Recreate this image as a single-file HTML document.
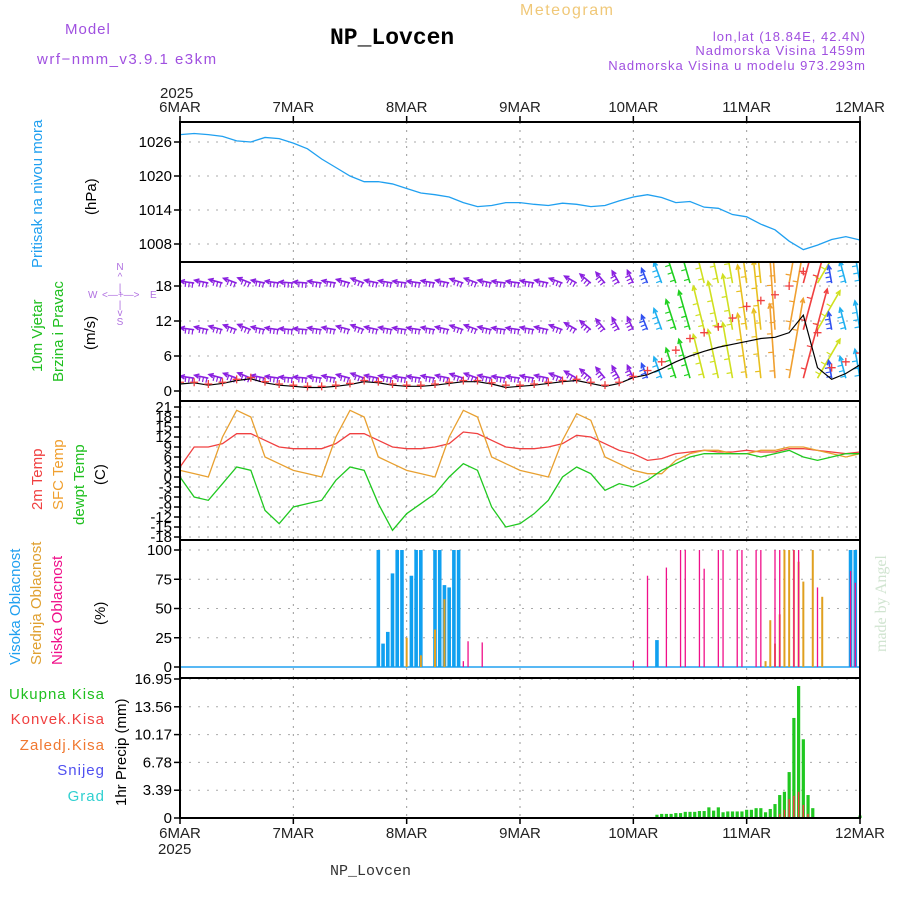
<!DOCTYPE html>
<html><head><meta charset="utf-8"><style>
html,body{margin:0;padding:0;background:#fff}
svg{display:block}
text{font-family:"Liberation Sans",sans-serif}
</style></head><body>
<svg id="chart" width="900" height="900" viewBox="0 0 900 900" xmlns="http://www.w3.org/2000/svg">
<defs>
<clipPath id="cp1"><rect x="180" y="122" width="680" height="140"/></clipPath>
<clipPath id="cp2"><rect x="180" y="262" width="680" height="139"/></clipPath>
<clipPath id="cp3"><rect x="180" y="401" width="680" height="139"/></clipPath>
</defs>
<g>
<text x="65" y="34" font-size="15" fill="#a050e0" letter-spacing="1">Model</text>
<text x="37" y="64" font-size="15" fill="#a050e0" letter-spacing="1.5">wrf−nmm_v3.9.1 e3km</text>
<text x="330" y="44" font-size="23" font-weight="bold" fill="#000" style="font-family:'Liberation Mono',monospace">NP_Lovcen</text>
<text x="520" y="15" font-size="16" fill="#f0c878" letter-spacing="1.5">Meteogram</text>
<text x="866" y="41" font-size="13" fill="#a050e0" text-anchor="end" letter-spacing="1">lon,lat (18.84E, 42.4N)</text>
<text x="866" y="55" font-size="13" fill="#a050e0" text-anchor="end" letter-spacing="1">Nadmorska Visina 1459m</text>
<text x="866" y="70" font-size="13" fill="#a050e0" text-anchor="end" letter-spacing="1">Nadmorska Visina u modelu 973.293m</text>
<text x="330" y="875" font-size="15" fill="#333" style="font-family:'Liberation Mono',monospace">NP_Lovcen</text>
<text transform="translate(886,652) rotate(-90)" font-size="16" fill="#d0e4d0" style="font-family:'Liberation Serif',serif">made by Angel</text>
</g>
<g id="labels">
<text transform="translate(42,268) rotate(-90)" font-size="15" fill="#20a0f0">Pritisak na nivou mora</text>
<text transform="translate(96,215) rotate(-90)" font-size="15" fill="#000">(hPa)</text>
<text transform="translate(42,372) rotate(-90)" font-size="15" fill="#20c020">10m Vjetar</text>
<text transform="translate(63,382) rotate(-90)" font-size="15" fill="#20c020">Brzina i Pravac</text>
<text transform="translate(95,350) rotate(-90)" font-size="15" fill="#000">(m/s)</text>
<g fill="#b070e0" font-size="10">
<text x="120" y="270" text-anchor="middle">N</text><text x="120" y="280" text-anchor="middle">^</text><text x="120" y="291" text-anchor="middle">|</text>
<text x="88" y="298">W</text><text x="102" y="298">&lt;—+—&gt;</text><text x="150" y="298">E</text>
<text x="120" y="308" text-anchor="middle">|</text><text x="120" y="316" text-anchor="middle">v</text><text x="120" y="325" text-anchor="middle">S</text>
</g>
<text transform="translate(42,510) rotate(-90)" font-size="15" fill="#f04040">2m Temp</text>
<text transform="translate(63,510) rotate(-90)" font-size="15" fill="#f0a030">SFC Temp</text>
<text transform="translate(84,525) rotate(-90)" font-size="15" fill="#20c020">dewpt Temp</text>
<text transform="translate(105,485) rotate(-90)" font-size="15" fill="#000">(C)</text>
<text transform="translate(20,665) rotate(-90)" font-size="15" fill="#20a0f0">Visoka Oblacnost</text>
<text transform="translate(41,665) rotate(-90)" font-size="15" fill="#e0a030">Srednja Oblacnost</text>
<text transform="translate(62,665) rotate(-90)" font-size="15" fill="#f0108a">Niska Oblacnost</text>
<text transform="translate(105,625) rotate(-90)" font-size="15" fill="#000">(%)</text>
<text transform="translate(126,806) rotate(-90)" font-size="15" fill="#000">1hr Precip (mm)</text>
<text x="105" y="699" font-size="15" fill="#20c020" text-anchor="end" letter-spacing="1">Ukupna  Kisa</text>
<text x="105" y="724" font-size="15" fill="#f04040" text-anchor="end" letter-spacing="1">Konvek.Kisa</text>
<text x="105" y="750" font-size="15" fill="#f07830" text-anchor="end" letter-spacing="1">Zaledj.Kisa</text>
<text x="105" y="775" font-size="15" fill="#5050f0" text-anchor="end" letter-spacing="1">Snijeg</text>
<text x="105" y="801" font-size="15" fill="#30d0d0" text-anchor="end" letter-spacing="1">Grad</text>
</g>
<g id="plot"></g>
</svg>
<script>
// ---- data (3-hourly unless noted; hour 0 = 6MAR 00h) ----
var dayLabels = ["6MAR","7MAR","8MAR","9MAR","10MAR","11MAR","12MAR"];
var pressure = [1027.3,1027.5,1027.3,1027.0,1026.2,1026.0,1026.8,1026.6,
 1025.8,1024.8,1023.0,1021.5,1020.0,1019.0,1019.0,1018.6,
 1017.8,1017.0,1016.7,1016.3,1015.3,1014.6,1014.8,1015.3,
 1015.3,1015.0,1014.8,1015.2,1015.0,1014.6,1014.8,1015.6,
 1016.3,1016.7,1016.2,1015.3,1015.5,1014.5,1014.3,1013.2,
 1012.8,1011.5,1010.5,1008.5,1007.0,1007.8,1008.8,1009.3,1008.7];
var pressureTicks = [1008,1014,1020,1026];
var windSpeed = [1.5,1.5,1.2,1.5,2.0,2.3,1.6,1.2,
 1.0,0.8,0.8,1.0,1.3,1.8,1.6,1.2,
 1.0,1.0,1.2,1.5,1.8,1.8,1.4,1.0,
 1.0,1.2,1.5,1.8,2.0,1.5,1.0,1.5,
 2.5,3.5,5.0,7.0,9.0,10.0,11.0,12.5,
 14.5,15.5,16.5,18.0,20.5,10.0,4.0,5.0,6.5];
var windGust = [1.2,1.4,1.0,1.3,1.8,2.1,1.4,1.0,
 0.8,0.6,0.6,0.8,1.1,1.6,1.4,1.0,
 0.8,0.8,1.0,1.3,1.6,1.6,1.2,0.6,
 0.8,1.0,1.3,1.6,1.8,1.3,0.8,1.3,
 2.3,2.8,3.8,5.0,6.0,6.8,7.5,8.0,
 8.5,9.0,9.2,10.0,13.0,4.0,2.0,3.0,4.5];
var windDir = [170,172,168,165,160,158,168,172,
 175,175,172,170,165,160,168,170,
 172,172,170,168,162,160,168,172,
 172,170,168,160,150,140,130,120,
 115,112,110,108,106,104,102,100,
 98,96,94,80,75,60,100,105,100];
var windTicks = [0,6,12,18];
var t2m = [3,9,9,10,13,13,11,9, 8.5,8.5,8.5,10,13,13,11,9, 8.5,8.5,9,10,13.5,13,11,9, 8.5,8.5,9,10,12.5,12,10,8, 7,5,5.5,7,7.5,8,7.5,7.5, 8,7.5,7.5,8.5,8.5,8,7.5,7,7.5];
var tSfc = [2,1,0,12,20,18,6,4, 2,1,0,12,20,18,6,4, 2,1,0,12,20,18,6,4, 2,1,0,11,19,17,6,4, 2,1,1,5,7,8,8,7, 7,8,8,9,9,8,7,6,7];
var tDew = [0,-6,-7,-2,3,2,-10,-14, -9,-8,-7,-1,3,2,-8,-16, -11,-8,-5,0,4,2,-9,-15, -14,-11,-7,0,3,1,-4,-2, -3,-1,2,4,6,7,7,7, 7,6,7,8,6,5,6,7,7];
var tempTicks = [-18,-15,-12,-9,-6,-3,0,3,6,9,12,15,18,21];
var cloudHighHours = [42,43,44,45,46,47,49,50,51,54,55,56,57,58,59,101,142,143];
var cloudHighVals  = [100,20,30,80,100,100,78,100,100,100,100,70,68,100,100,23,100,100];
var cloudMidHours = [48,51,54,56,124,125,126,127,128,129,130,131,132,134,136];
var cloudMidVals  = [25,10,32,58,5,40,20,45,100,100,100,90,73,100,60];
var cloudLowHours = [60,61,64,96,99,103,106,107,110,111,114,115,118,119,122,123,126,127,130,131,135,142,143];
var cloudLowVals  = [5,22,21,5,78,85,100,100,100,84,100,100,100,100,100,100,100,100,100,100,68,82,72];
var cloudTicks = [0,25,50,75,100];
var precipHours = [101,102,103,104,105,106,107,108,109,110,111,112,113,114,115,116,117,118,119,120,121,122,123,124,125,126,127,128,129,130,131,132,133,134,144];
var precipTotal = [0.4,0.5,0.5,0.5,0.6,0.6,0.75,0.75,0.75,0.85,0.85,1.3,0.9,1.3,0.7,0.8,0.8,0.8,0.8,1.0,1.0,1.2,1.2,0.7,1.1,1.7,2.8,3.2,5.6,12.2,16.1,9.6,2.8,1.2,0.3];
var convHours = [127,128,129,130,131,132,133];
var convVals  = [0.5,1.0,2.3,2.7,3.2,1.6,0.5];
var precipTicks = [0,3.39,6.78,10.17,13.56,16.95];

var X0=180, X1=860, NH=144;
function xh(h){return X0+(X1-X0)*h/NH;}
var P={p:[122,262],w:[262,401],t:[401,540],c:[540,678],r:[678,818]};
function lin(d0,d1,r0,r1){return function(v){return r0+(v-d0)*(r1-r0)/(d1-d0);};}
var yP=lin(1026,1008,142,244), yW=lin(0,18,391,286), yT=lin(21,-18,407,537), yC=lin(0,100,667,550), yR=lin(0,16.95,818,679);
var NS="http://www.w3.org/2000/svg", root=document.getElementById('plot');
function mk(tag,attrs,parent){var e=document.createElementNS(NS,tag);for(var k in attrs)e.setAttribute(k,attrs[k]);(parent||root).appendChild(e);return e;}

function panel(name,rng,ticks,yf,fmt){
  var g=mk('g',{});
  
  
  for(var d=1;d<6;d++){var vl=mk('line',{x1:xh(d*24),x2:xh(d*24),y1:rng[0],y2:rng[1],stroke:'#999','stroke-dasharray':'2,6'},g);
    
    }
  ticks.forEach(function(v){var y=yf(v);
    var gl=mk('line',{x1:X0,x2:X1,y1:y,y2:y,stroke:'#aaa','stroke-dasharray':'2,7'},g);
    
    
    mk('line',{x1:X0-6,x2:X0,y1:y,y2:y,stroke:'#000','stroke-width':1.5},g);
    var t=mk('text',{x:X0-8,y:y+5,'text-anchor':'end','font-size':15,fill:'#000'},g);
    t.textContent=fmt?fmt(v):String(v);
    
    
  });
  return g;
}
panel('pressure',P.p,pressureTicks,yP);
panel('wind',P.w,windTicks,yW);
panel('temp',P.t,tempTicks,yT);
panel('cloud',P.c,cloudTicks,yC);
panel('precip',P.r,precipTicks,yR,function(v){return v===0?'0':v.toFixed(2);});

var pts=pressure.map(function(v,i){return xh(i*3)+','+yP(v);}).join(' ');
var pl=mk('polyline',{points:pts,fill:'none',stroke:'#20a0f0','stroke-width':1.3,'clip-path':'url(#cp1)'});



function spdColor(s){var stops=[[0,'#8a20e0'],[3,'#3050f0'],[5,'#20b0f0'],[7,'#20d020'],[10,'#d0e020'],[13,'#e8c020'],[16,'#f0a030'],[19,'#f04040'],[22,'#f01080']];
  for(var i=stops.length-1;i>=0;i--) if(s>=stops[i][0]) return stops[i][1]; return stops[0][1];}
var wg=mk('g',{'clip-path':'url(#cp2)'});


[18.5,10.5,2.2].forEach(function(base){
  windSpeed.forEach(function(s,i){
    var x=xh(i*3), y=yW(base), L=Math.max(14,s*4.5), a=windDir[i]*Math.PI/180;
    var x2=x+L*Math.cos(a), y2=y-L*Math.sin(a), c=spdColor(s);
    var ar=mk('line',{x1:x,y1:y,x2:x2,y2:y2,stroke:c,'stroke-width':1.6},wg);
    
    
    var h1=a+Math.PI-0.45,h2=a+Math.PI+0.45;
    mk('polyline',{points:(x2+5*Math.cos(h1))+','+(y2-5*Math.sin(h1))+' '+x2+','+y2+' '+(x2+5*Math.cos(h2))+','+(y2-5*Math.sin(h2)),fill:'none',stroke:c,'stroke-width':1.5},wg);
    // feathers along the shaft
    for(var k=0;k<3;k++){var fx=x+(L*(0.1+0.25*k))*Math.cos(a), fy=y-(L*(0.1+0.25*k))*Math.sin(a);
      var pa=a+Math.PI/2;
      mk('line',{x1:fx,y1:fy,x2:fx+5*Math.cos(pa),y2:fy-5*Math.sin(pa),stroke:c,'stroke-width':1.2},wg);}
  });
});
var gl2=mk('polyline',{points:windGust.map(function(v,i){return xh(i*3)+','+yW(v);}).join(' '),fill:'none',stroke:'#000','stroke-width':1.2,'clip-path':'url(#cp2)'});


var sg=mk('g',{'clip-path':'url(#cp2)'});


windSpeed.forEach(function(v,i){var x=xh(i*3),y=yW(v);
  var m=mk('path',{d:'M'+(x-4)+','+y+'h8M'+x+','+(y-4)+'v8',stroke:'#f04040','stroke-width':1.3},sg);
  
  });

[[t2m,'#f04040','temp-2m-line'],[tSfc,'#e8a030','temp-sfc-line'],[tDew,'#20c820','dewpoint-line']].forEach(function(s){
  var l=mk('polyline',{points:s[0].map(function(v,i){return xh(i*3)+','+yT(v);}).join(' '),fill:'none',stroke:s[1],'stroke-width':1.3,'clip-path':'url(#cp3)'});
  
  
});

mk('line',{x1:X0,x2:X1,y1:yC(0),y2:yC(0),stroke:'#20a0f0','stroke-width':1.5});
function bars(hours,vals,yf,color,w,name){
  hours.forEach(function(h,i){var y=yf(vals[i]);
    var b=mk('rect',{x:xh(h)-w/2,y:y,width:w,height:yf(0)-y,fill:color});
    
    });
}
bars(cloudHighHours,cloudHighVals,yC,'#10a0f0',3.6,'cloud-high-bar');
bars(cloudMidHours,cloudMidVals,yC,'#e0a020',2,'cloud-mid-bar');
bars(cloudLowHours,cloudLowVals,yC,'#f0108a',1.3,'cloud-low-bar');
bars(precipHours,precipTotal,yR,'#20c820',3.2,'precip-total-bar');
bars(convHours,convVals,yR,'#f04040',1.5,'precip-convective-bar');

[P.p,P.w,P.t,P.c,P.r].forEach(function(r){
  var f=mk('rect',{x:X0,y:r[0],width:X1-X0,height:r[1]-r[0],fill:'none',stroke:'#000','stroke-width':2});
  
  });
dayLabels.forEach(function(d,i){var x=xh(i*24);
  mk('line',{x1:x,x2:x,y1:116,y2:122,stroke:'#000','stroke-width':1.5});
  mk('line',{x1:x,x2:x,y1:818,y2:824,stroke:'#000','stroke-width':1.5});
  var t=mk('text',{x:x,y:112,'text-anchor':'middle','font-size':15,fill:'#222'});t.textContent=d;
  
  
  var b=mk('text',{x:x,y:838,'text-anchor':'middle','font-size':15,fill:'#222'});b.textContent=d;
  
  
});
var y1=mk('text',{x:160,y:98,'font-size':15,fill:'#222'});y1.textContent='2025';


var y2=mk('text',{x:158,y:854,'font-size':15,fill:'#222'});y2.textContent='2025';


</script>
</body></html>
